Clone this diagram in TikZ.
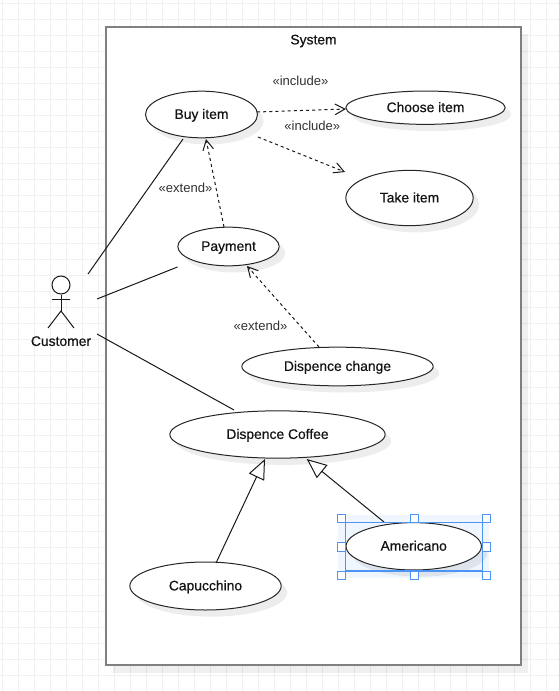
\documentclass[tikz,border=0pt]{standalone}
\usepackage{fontspec}
\setmainfont{Liberation Sans}
\newfontfamily\mediumfont[FakeBold=0.55]{Liberation Sans}
\usetikzlibrary{arrows.meta,shadows,shapes.geometric}
\definecolor{gridc}{HTML}{F0F0F0}
\definecolor{sysc}{HTML}{808080}
\definecolor{selc}{HTML}{4D94F5}
\definecolor{selfill}{HTML}{EFF6FE}
\tikzset{
  nametext/.style={font=\fontsize{10.4}{12}\mediumfont,text height=8.6pt,text depth=2pt,text=black!92},
  usecase/.style={ellipse,draw=black!85,line width=0.75pt,fill=white,inner sep=0pt,nametext,
    general shadow={fill=black,opacity=0.07,shadow xshift=4.5pt,shadow yshift=-5pt}},
  assoc/.style={draw=black!90,line width=0.75pt},
  depend/.style={draw=black!90,line width=0.75pt,dash pattern=on 2.3pt off 2.3pt,-{Straight Barb[length=7.5pt,width=8pt,line width=0.75pt]}},
  general/.style={draw=black!90,line width=0.75pt,-{Triangle[open,fill=white,length=15pt,width=12.6pt,line width=0.75pt]}},
  stereo/.style={font=\fontsize{9.8}{11}\selectfont,text=black!80,inner sep=0pt},
  handle/.style={draw=selc,fill=white,line width=0.9pt,minimum size=6.2pt,inner sep=0pt,rectangle},
  actorline/.style={draw=black!90,line width=0.75pt},
}
\begin{document}
\begin{tikzpicture}[x=0.75pt,y=-0.75pt]
\useasboundingbox (0,0) rectangle (559,691);
\fill[white] (0,0) rectangle (559,691);
% grid
\foreach \k in {0,...,34}{\draw[gridc,line width=0.75pt] ({2.3+16*\k},0) -- ({2.3+16*\k},691);}
\foreach \k in {0,...,42}{\draw[gridc,line width=0.75pt] (0,{3.3+16*\k}) -- (559,{3.3+16*\k});}
% system
\fill[black,opacity=0.06] (112.5,34) rectangle (527.5,673);
\node[draw=sysc,line width=1.5pt,fill=white,rectangle,inner sep=0pt,minimum width=311.25pt,minimum height=478.5pt] (system) at (313.7,346.3) {};
\node[nametext,inner sep=0pt] (systitle) at (313.5,40) {System};
% selection background
\fill[selfill] (338,515) rectangle (489,578);
% use cases
\node[usecase,minimum width=84pt,minimum height=35pt] (buy) at (201.5,114.5) {Buy item};
\node[usecase,minimum width=76pt,minimum height=29pt] (pay) at (228.5,246.5) {Payment};
\node[usecase,minimum width=119.5pt,minimum height=25pt] (choose) at (425.5,107.7) {Choose item};
\node[usecase,minimum width=95.5pt,minimum height=41.5pt] (take) at (409.5,198) {Take item};
\node[usecase,minimum width=143.5pt,minimum height=29pt] (change) at (337.5,366.5) {Dispence change};
\node[usecase,minimum width=161.5pt,minimum height=35.5pt] (coffee) at (277.5,434.5) {Dispence Coffee};
\node[usecase,minimum width=113.5pt,minimum height=36pt] (capu) at (205.5,586) {Capucchino};
\node[usecase,minimum width=101.5pt,minimum height=35.5pt] (amer) at (413.7,546.3) {Americano};
% actor
\node[circle,draw=black!90,line width=0.75pt,fill=white,minimum size=13.5pt,inner sep=0pt] (head) at (61,285) {};
\coordinate (hip) at (61,311);
\coordinate (armL) at (51.7,299.7);
\coordinate (armR) at (70,299.7);
\coordinate (legL) at (48,328);
\coordinate (legR) at (74,328);
\draw[actorline] (head.south) -- (hip);
\draw[actorline] (armL) -- (armR);
\draw[actorline] (legL) -- (hip) -- (legR);
\node[nametext,inner sep=0pt] (cust) at (61,341.5) {Customer};
% connector ends
\coordinate (c1) at (88,274);
\coordinate (c2) at (97,299);
\coordinate (c3) at (97,334);
\coordinate (b1) at (183,139);
\coordinate (p1) at (177.5,267);
\coordinate (k1) at (234,410);
\draw[assoc] (c1) -- (b1);
\draw[assoc] (c2) -- (p1);
\draw[assoc] (c3) -- (k1);
% dependencies
\coordinate (d1s) at (224,227);
\coordinate (d1e) at (206,139);
\coordinate (d2s) at (257,112);
\coordinate (d2e) at (346,109);
\coordinate (d3s) at (258,137);
\coordinate (d3e) at (345,172);
\coordinate (d4s) at (319,347);
\coordinate (d4e) at (247,266);
\draw[depend] (d1s) -- (d1e);
\draw[depend] (d2s) -- (d2e);
\draw[depend] (d3s) -- (d3e);
\draw[depend] (d4s) -- (d4e);
% generalisations
\coordinate (g1s) at (216,563);
\coordinate (g1e) at (265,459);
\coordinate (g2s) at (384,522);
\coordinate (g2e) at (306.7,459);
\draw[general] (g1s) -- (g1e);
\draw[general] (g2s) -- (g2e);
% labels
\node[stereo] (l1) at (300.5,81) {«include»};
\node[stereo] (l2) at (312.3,125.7) {«include»};
\node[stereo] (l3) at (185.5,188) {«extend»};
\node[stereo] (l4) at (260.5,326) {«extend»};
% selection
\draw[selc,line width=0.9pt] (345.7,522.5) rectangle (482.3,571);
\node[handle] (h1) at (341.5,518.5) {};
\node[handle] (h2) at (414.3,518.5) {};
\node[handle] (h3) at (486.7,518.5) {};
\node[handle] (h4) at (341.5,547) {};
\node[handle] (h5) at (486.7,547) {};
\node[handle] (h6) at (341.5,575.3) {};
\node[handle] (h7) at (414.3,575.3) {};
\node[handle] (h8) at (486.7,575.3) {};
\end{tikzpicture}
\end{document}
